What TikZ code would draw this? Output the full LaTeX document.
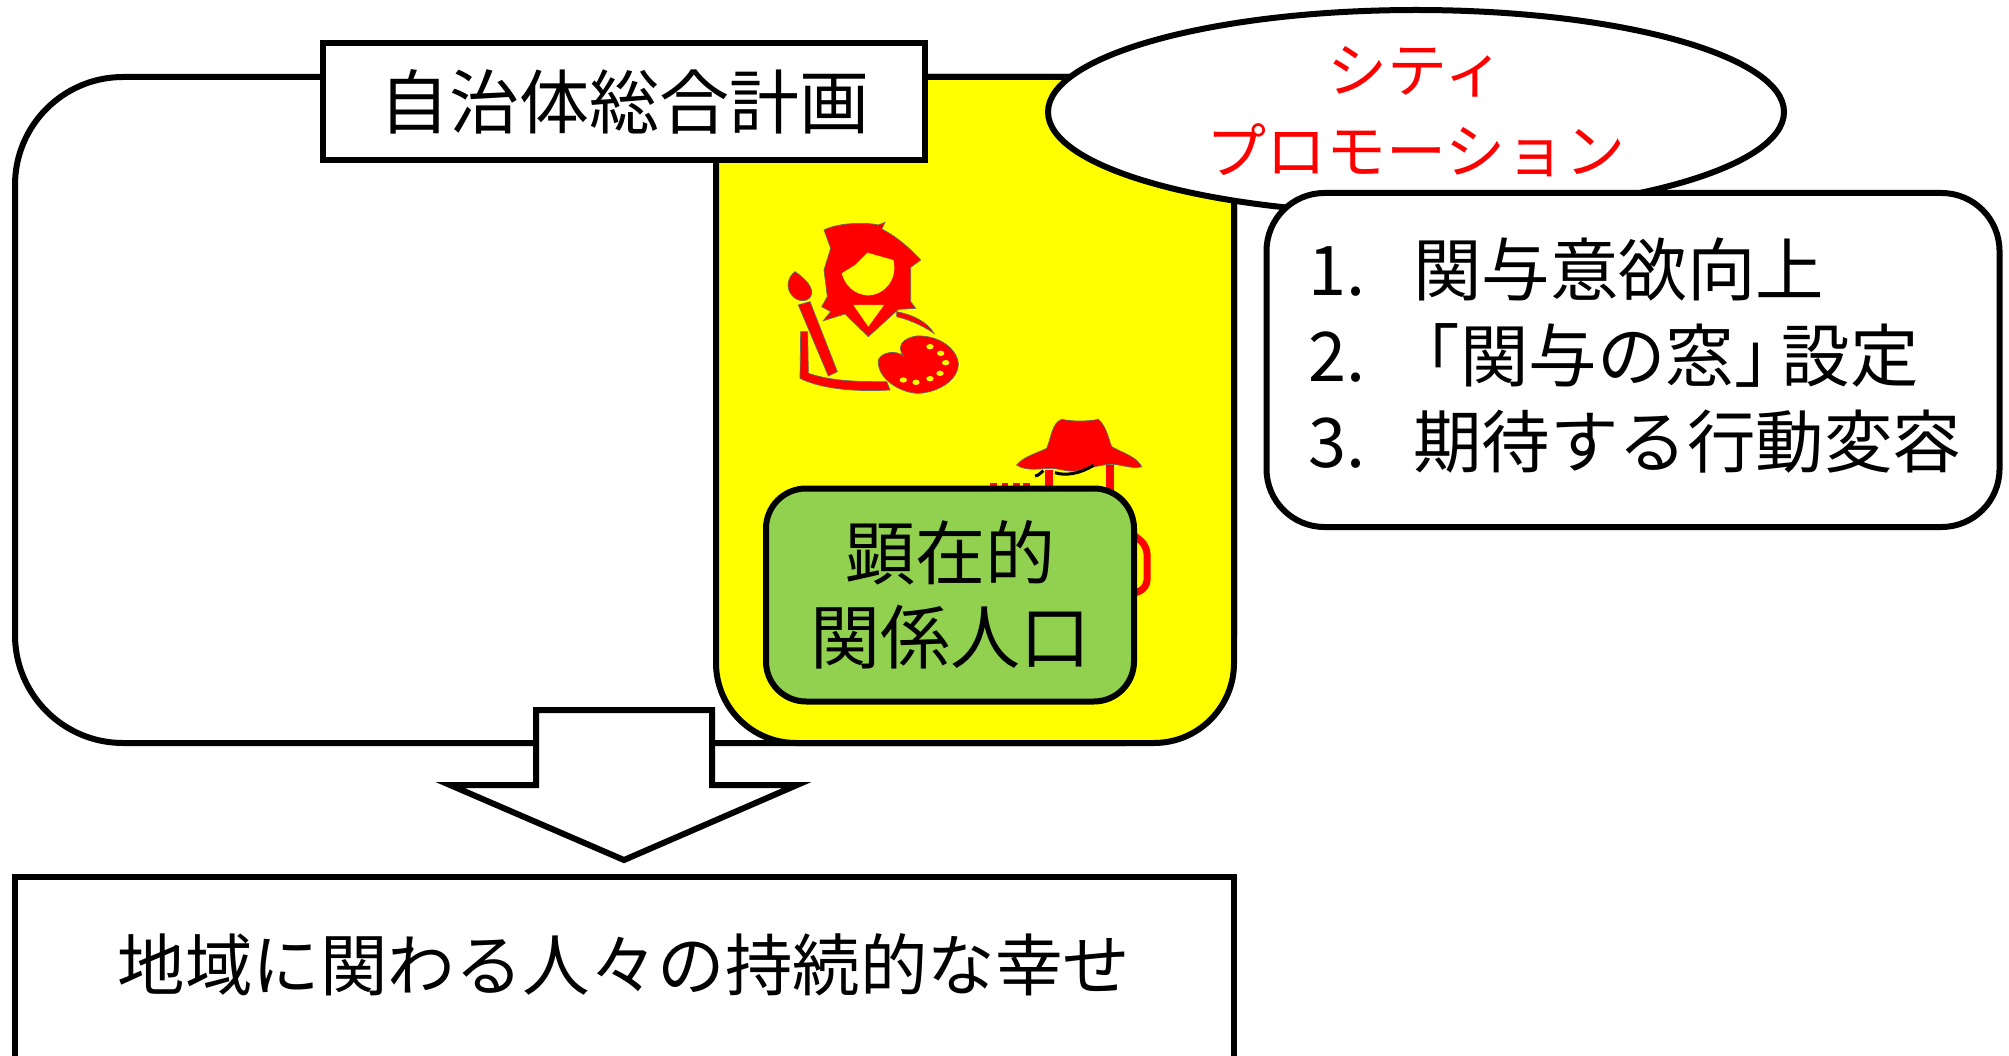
\documentclass[tikz,border=0pt]{standalone}
\usepackage{fontspec}
\setmainfont{Noto Sans CJK JP}
\usetikzlibrary{shapes.geometric}
\definecolor{leaf}{HTML}{92D050}
\definecolor{lemon}{RGB}{255,255,0}
\definecolor{signal}{RGB}{255,0,0}
\tikzstyle{frame} = [draw, line width=6pt, rounded corners=108pt]
\tikzstyle{block} = [rectangle, draw, fill=white, line width=6pt, inner sep=0pt]
\tikzstyle{label} = [font=\fontsize{70}{84}\selectfont, align=center]
\tikzstyle{icon} = [fill=signal, draw=black!60, line width=.7pt]

\begin{document}
\begin{tikzpicture}[x=1pt,y=-1pt]
  \useasboundingbox (0,0) rectangle (2009,1056);
  % outer frame and yellow part
  \draw[frame] (15,77) rectangle (1234,743);
  \draw[line width=6pt, fill=lemon, rounded corners=80pt] (716,77) rectangle (1234,743);
  \node[block, minimum width=602pt, minimum height=117pt, label] (plan) at (624,102) {自治体総合計画};

  % painter
  \begin{scope}[shift={(740,190)},scale=1/3]
    \filldraw[icon] (252,120) .. controls (290,100) and (370,95) .. (415,105) -- (435,97) -- (425,117) .. controls (470,140) and (510,175) .. (542,210) -- (512,232)
       -- (512,335) -- (527,355) -- (475,358) -- (385,440) -- (315,372) -- (250,392) -- (272,365) -- (245,350) -- (262,320) -- (252,240) -- (272,175) -- cycle;
    \fill[lemon] (305,250) -- (345,225) -- (382,188) -- (460,210) .. controls (475,270) and (430,318) .. (380,316) .. controls (340,312) and (315,285) .. cycle;
    \fill[lemon] (340,345) -- (432,345) -- (385,410) -- cycle;
    \filldraw[icon] (470,365) .. controls (520,375) and (560,395) .. (582,430) .. controls (545,405) and (510,390) .. (470,380) -- cycle;
    \filldraw[icon] (165,245) .. controls (195,265) and (225,295) .. (212,320) .. controls (200,338) and (170,335) .. (155,315) .. controls (135,290) and (145,260) .. cycle;
    \filldraw[icon] (175,345) -- (210,335) -- (292,545) -- (265,558) -- cycle;
    \filldraw[icon] (182,425) -- (203,425) -- (205,550) .. controls (280,575) and (360,575) .. (440,575) -- (450,600) .. controls (360,605) and (250,600) .. (180,565) -- cycle;
    \filldraw[icon] (415,510) .. controls (425,485) and (470,480) .. (490,498) .. controls (470,470) and (485,445) .. (530,438)
       .. controls (600,435) and (655,480) .. (655,525) .. controls (650,580) and (580,610) .. (530,610) .. controls (470,605) and (410,560) .. (415,510) -- cycle;
    \foreach \hx/\hy in {570/470,602/490,617/518,600/550,570/566,528/577,490/570}
      \fill[lemon] (\hx,\hy) ellipse[x radius=11,y radius=8];
  \end{scope}

  % person with hat, behind the green box
  \begin{scope}[shift={(740,190)},scale=1/3]
    \fill[signal] (915,840) rectangle (940,900);
    \fill[signal] (1097,825) rectangle (1122,900);
    \filldraw[icon] (830,825) .. controls (850,800) and (890,790) .. (920,775) .. controls (935,740) and (935,700) .. (965,688) .. controls (1000,695) and (1040,695) .. (1075,688)
       .. controls (1100,710) and (1105,745) .. (1115,770) .. controls (1150,790) and (1190,800) .. (1205,830) .. controls (1180,838) and (1150,825) .. (1120,823)
       .. controls (1085,822) and (1050,835) .. (1020,840) .. controls (990,850) and (960,835) .. (935,835) .. controls (900,835) and (860,845) .. (830,825) -- cycle;
    \draw[black, line width=3pt] (885,858) .. controls (900,855) and (900,848) .. (910,842);
    \draw[black, line width=3pt] (945,848) .. controls (975,858) and (1020,852) .. (1060,826);
    \foreach \hx in {750,785,820,850}
      \fill[signal] (\hx,878) rectangle (\hx+20,900);
  \end{scope}
  \draw[signal, line width=7pt, rounded corners=8pt] (1130,532) -- (1147,546) -- (1147,588) -- (1130,595);

  % green box
  \node[draw, line width=6pt, fill=leaf, rounded corners=40pt, minimum width=368pt, minimum height=213pt, label] (active) at (950,595) {顕在的\\関係人口};

  % arrow
  \draw[fill=white, line width=6pt, miter limit=10] (536,710) -- (712,710) -- (712,785) -- (797,785) -- (624,860) -- (450,785) -- (536,785) -- cycle;

  % result box
  \draw[fill=white, line width=6pt] (15,1070) -- (15,877) -- (1234,877) -- (1234,1070);
  \node[label, font=\fontsize{67.5}{80}\selectfont] (result) at (624,965) {地域に関わる人々の持続的な幸せ};

  % promotion and its list
  \node[ellipse, draw, fill=white, line width=6pt, minimum width=736pt, minimum height=204pt, inner sep=0pt] (promo) at (1416,112) {};
  \node[text=signal, font=\fontsize{60}{81}\selectfont, align=center] (promotext) at (1416,112) {シティ\\プロモーション};
  \node[draw, fill=white, line width=6pt, rounded corners=58pt, minimum width=733pt, minimum height=334pt] (steps) at (1633,360) {};
  \node[font=\fontsize{68.5}{86}\selectfont, align=left, anchor=west] (stepstext) at (1305,356)
    {\makebox[105pt][l]{1.}関与意欲向上\\\makebox[83pt][l]{2.}「関与の窓」\hspace{-21pt}設定\\\makebox[105pt][l]{3.}期待する行動変容};
\end{tikzpicture}
\end{document}
